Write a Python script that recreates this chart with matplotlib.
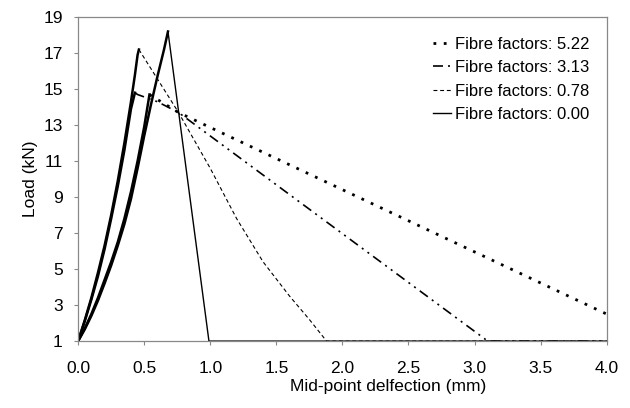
import matplotlib
matplotlib.use("Agg")
import matplotlib.pyplot as plt

plt.rcParams['font.family'] = ['Liberation Sans', 'DejaVu Sans']

# load-deflection curves, pre-peak (rising) branch
rise_522_x = [0.0, 0.05, 0.10, 0.15, 0.20, 0.25, 0.30, 0.35, 0.40, 0.45, 0.50, 0.54]
rise_522_y = [1.0, 1.7, 2.5, 3.4, 4.4, 5.4, 6.5, 7.8, 9.3, 11.0, 12.9, 14.7]
rise_313_x = [0.0, 0.05, 0.10, 0.15, 0.20, 0.25, 0.30, 0.35, 0.40, 0.43]
rise_313_y = [1.0, 2.1, 3.3, 4.6, 6.1, 7.8, 9.6, 11.6, 13.9, 14.8]
rise_078_x = [0.0, 0.05, 0.10, 0.15, 0.20, 0.25, 0.30, 0.35, 0.40, 0.43, 0.45, 0.46]
rise_078_y = [1.0, 2.15, 3.4, 4.8, 6.3, 8.0, 9.9, 12.0, 14.3, 15.8, 16.9, 17.2]
rise_000_x = [0.0, 0.05, 0.10, 0.15, 0.20, 0.25, 0.30, 0.35, 0.40, 0.45, 0.50, 0.55, 0.60, 0.65, 0.68]
rise_000_y = [1.0, 1.65, 2.4, 3.25, 4.2, 5.2, 6.3, 7.5, 8.9, 10.6, 12.4, 14.1, 15.7, 17.2, 18.2]

# post-peak (softening) branch
fall_522_x = [0.54, 0.56, 0.65, 0.76, 4.0]
fall_522_y = [14.7, 14.6, 14.2, 13.7, 2.5]
fall_313_x = [0.43, 0.45, 0.60, 0.76, 3.10, 4.0]
fall_313_y = [14.8, 14.7, 14.3, 13.7, 1.0, 1.0]
fall_078_x = [0.46, 0.76, 1.0, 1.2, 1.4, 1.6, 1.75, 1.88, 4.0]
fall_078_y = [17.2, 13.7, 10.6, 7.8, 5.4, 3.5, 2.2, 1.0, 1.0]
fall_000_x = [0.68, 0.99, 4.0]
fall_000_y = [18.2, 1.0, 1.0]

labels = ['Fibre factors: 5.22', 'Fibre factors: 3.13',
          'Fibre factors: 0.78', 'Fibre factors: 0.00']

fig = plt.figure(figsize=(6.3, 4.08), dpi=100)
ax = fig.add_axes([0.124, 0.164, 0.839, 0.794])

for xs, ys in [(rise_522_x, rise_522_y), (rise_313_x, rise_313_y),
               (rise_078_x, rise_078_y), (rise_000_x, rise_000_y)]:
    ax.plot(xs, ys, color='black', lw=1.8, solid_joinstyle='round')

ax.plot(fall_522_x, fall_522_y, color='black', lw=2.0, ls=(0, (1.0, 2.7)), label=labels[0])
ax.plot(fall_313_x, fall_313_y, color='black', lw=1.2, ls=(0, (6, 3, 1.2, 3, 1.2, 3)), label=labels[1])
ax.plot(fall_078_x, fall_078_y, color='black', lw=0.8, ls=(0, (3.5, 2.5)), label=labels[2])
ax.plot(fall_000_x, fall_000_y, color='black', lw=1.0, label=labels[3])

ax.set_xlim(0, 4)
ax.set_ylim(1, 19)
ax.set_xticks([0, 0.5, 1, 1.5, 2, 2.5, 3, 3.5, 4])
ax.set_xticklabels(['0.0', '0.5', '1.0', '1.5', '2.0', '2.5', '3.0', '3.5', '4.0'])
ax.set_yticks(range(1, 20, 2))
ax.tick_params(labelsize=12.5, length=3, width=0.8, color='#888888')
ax.tick_params(axis='x', pad=11)
ax.tick_params(axis='y', pad=8)
for s in ax.spines.values():
    s.set_color('#888888')
    s.set_linewidth(0.9)

ax.set_xlabel('Mid-point delfection (mm)', fontsize=12.5)
ax.xaxis.set_label_coords(0.586, -0.118)
ax.set_ylabel('Load (kN)', fontsize=12.5, labelpad=4)

ax.legend(loc='upper right', bbox_to_anchor=(0.995, 0.985), frameon=False, fontsize=12,
          handlelength=1.1, handletextpad=0.2, labelspacing=0.5)

fig.savefig('out.png', dpi=100)
